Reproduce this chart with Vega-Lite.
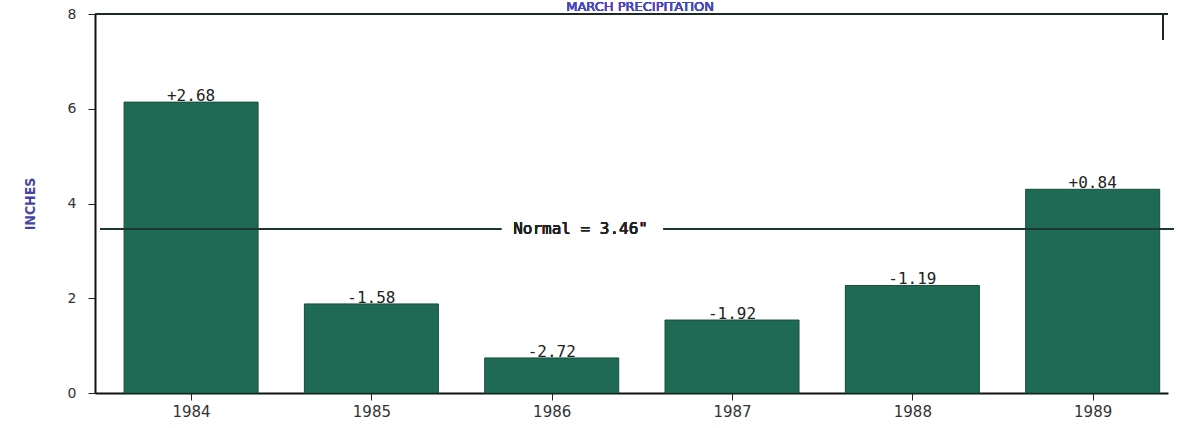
{
  "$schema": "https://vega.github.io/schema/vega-lite/v6.json",
  "autosize": {"type": "none"},
  "padding": {"left": 95, "top": 14, "right": 11, "bottom": 35},
  "width": 1073,
  "height": 379,
  "background": "white",
  "config": {"view": {"stroke": null}},
  "data": {
    "values": [
      {"year": 1984, "inches": 6.14, "dev": "+2.68"},
      {"year": 1985, "inches": 1.88, "dev": "-1.58"},
      {"year": 1986, "inches": 0.74, "dev": "-2.72"},
      {"year": 1987, "inches": 1.54, "dev": "-1.92"},
      {"year": 1988, "inches": 2.27, "dev": "-1.19"},
      {"year": 1989, "inches": 4.30, "dev": "+0.84"}
    ]
  },
  "layer": [
    {
      "mark": {"type": "bar", "size": 134, "color": "#1f6a55", "stroke": "#174d3e", "strokeWidth": 1},
      "encoding": {
        "x": {
          "field": "year", "type": "quantitative",
          "scale": {"domain": [1983.495, 1989.39], "nice": false, "zero": false},
          "axis": {
            "values": [1984, 1985, 1986, 1987, 1988, 1989],
            "format": "d", "title": null, "grid": false,
            "tickSize": 7, "tickColor": "#222", "domainColor": "#111", "domainWidth": 2,
            "labelFont": "DejaVu Sans", "labelFontSize": 15, "labelColor": "#333",
            "labelPadding": 4
          }
        },
        "y": {
          "field": "inches", "type": "quantitative",
          "scale": {"domain": [0, 8], "nice": false},
          "axis": {
            "values": [0, 2, 4, 6, 8], "title": "INCHES", "grid": false,
            "tickSize": 7, "tickColor": "#222", "domainColor": "#111", "domainWidth": 2,
            "labelFont": "DejaVu Sans", "labelFontSize": 14, "labelColor": "#333",
            "labelPadding": 12,
            "titleFont": "DejaVu Sans Condensed", "titleFontSize": 14, "titleFontWeight": "bold",
            "titleColor": "#4646a0", "titlePadding": 30
          }
        }
      }
    },
    {
      "mark": {"type": "text", "font": "DejaVu Sans Mono", "fontSize": 16, "baseline": "alphabetic", "dy": -1, "color": "#222"},
      "encoding": {
        "x": {"field": "year", "type": "quantitative"},
        "y": {"field": "inches", "type": "quantitative"},
        "text": {"field": "dev"}
      }
    },
    {
      "mark": {"type": "text", "font": "DejaVu Sans", "fontSize": 13, "baseline": "alphabetic", "align": "center", "dy": -3, "color": "#4646c0"},
      "encoding": {"x": {"datum": 1986.49}, "y": {"datum": 8}, "text": {"value": "MARCH PRECIPITATION"}}
    },
    {
      "mark": {"type": "rule", "color": "#1d2a24", "strokeWidth": 2},
      "encoding": {"y": {"datum": 8}}
    },
    {
      "mark": {"type": "rule", "color": "#1d2a24", "strokeWidth": 2},
      "encoding": {"x": {"datum": 1989.39}, "y": {"datum": 7.45}, "y2": {"datum": 8}}
    },
    {
      "mark": {"type": "rule", "color": "#1d3a30", "strokeWidth": 1.5},
      "encoding": {"x": {"datum": 1983.495}, "x2": {"datum": 1985.72}, "y": {"datum": 3.46}}
    },
    {
      "mark": {"type": "rule", "color": "#1d3a30", "strokeWidth": 1.5},
      "encoding": {"x": {"datum": 1986.62}, "x2": {"datum": 1989.45}, "y": {"datum": 3.46}}
    },
    {
      "mark": {"type": "text", "font": "DejaVu Sans Mono", "fontSize": 16, "baseline": "middle", "align": "center", "color": "#222"},
      "encoding": {"x": {"datum": 1986.16}, "y": {"datum": 3.46}, "text": {"value": "Normal = 3.46\""}}
    }
  ]
}
